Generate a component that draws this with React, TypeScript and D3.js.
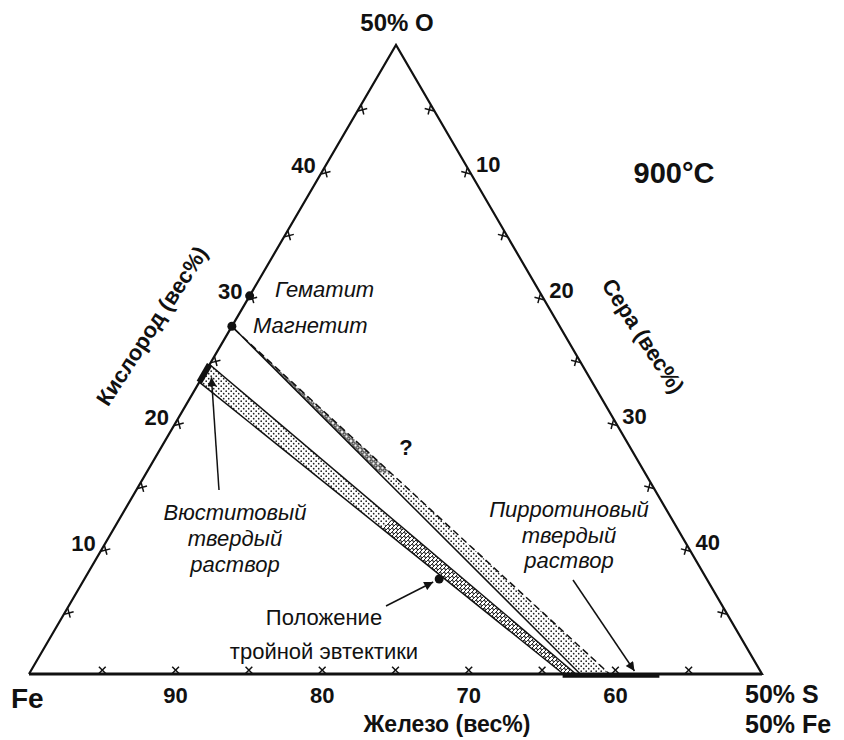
import React from 'react';
import * as d3 from 'd3';

// ---- data (compositions in wt%) ----
const axisTicks = [5, 10, 15, 20, 25, 30, 35, 40, 45];
const oxygenLabels = [10, 20, 30, 40];
const sulfurLabels = [10, 20, 30, 40];
const ironLabels = [90, 80, 70, 60];

// [O wt%, S wt%]
const hematite: [number, number] = [30.06, 0];
const magnetite: [number, number] = [27.64, 0];
const wustiteRange = [23.2, 24.6]; // O wt% on Fe–O join
const pyrrhotiteRange = [63.6, 57.0]; // Fe wt% on Fe–S join
const eutectic: [number, number] = [7.55, 24.2];
const lineA: [number, number][] = [[23.2, 0], [0, 36.45]];
const lineB: [number, number][] = [[24.6, 0], [0, 37.3]];
const lineC: [number, number][] = [[27.64, 0], [0, 37.6]];
const lineD: [number, number][] = [[27.4, 0.3], [0, 39.6]];
const pyrrhotiteArrowFe = 58.7;

// ---- geometry ----
const X0 = 29, Y0 = 674, XR = 762, XT = 396, YT = 45;
const sX = d3.scaleLinear().domain([0, 50]).range([0, XR - X0]);
const oX = d3.scaleLinear().domain([0, 50]).range([0, XT - X0]);
const oY = d3.scaleLinear().domain([0, 50]).range([Y0, YT]);

function P(o: number, s: number): [number, number] {
  return [X0 + sX(s) + oX(o), oY(o)];
}
const lerp = (a: [number, number], b: [number, number], u: number): [number, number] => [a[0] + (b[0] - a[0]) * u, a[1] + (b[1] - a[1]) * u];

const FONT = '"Liberation Sans", Arial, sans-serif';

function Tick({ p, dir }: { p: [number, number]; dir: [number, number] }) {
  const c: [number, number] = [p[0] + dir[0] * 3.8, p[1] + dir[1] * 3.8];
  const ang = Math.atan2(dir[1], dir[0]);
  const L = 4.8;
  const segs = [ang + Math.PI / 4, ang - Math.PI / 4].map((a) => {
    const dx = Math.cos(a) * L, dy = Math.sin(a) * L;
    return <line key={a} x1={c[0] - dx} y1={c[1] - dy} x2={c[0] + dx} y2={c[1] + dy} stroke="#111" strokeWidth={1.5} />;
  });
  return <g>{segs}</g>;
}

export default function App() {
  const pFe = P(0, 0), pS = P(0, 50), pO = P(50, 0);
  const line = d3.line();

  const nBottom: [number, number] = [0, -1];
  const leftDir = [pO[0] - pFe[0], pO[1] - pFe[1]];
  const lenL = Math.hypot(leftDir[0], leftDir[1]);
  let nl: [number, number] = [-leftDir[1] / lenL, leftDir[0] / lenL];
  if (nl[0] < 0) nl = [-nl[0], -nl[1]];
  const rightDir = [pS[0] - pO[0], pS[1] - pO[1]];
  const lenR = Math.hypot(rightDir[0], rightDir[1]);
  let nr: [number, number] = [-rightDir[1] / lenR, rightDir[0] / lenR];
  if (nr[0] > 0) nr = [-nr[0], -nr[1]];

  const A0 = P(lineA[0][0], lineA[0][1]), A1 = P(lineA[1][0], lineA[1][1]);
  const B0 = P(lineB[0][0], lineB[0][1]), B1 = P(lineB[1][0], lineB[1][1]);
  const C0 = P(lineC[0][0], lineC[0][1]), C1 = P(lineC[1][0], lineC[1][1]);
  const D0 = P(lineD[0][0], lineD[0][1]), D1 = P(lineD[1][0], lineD[1][1]);

  const uSplit = 0.5;
  const lowDots = [A0, lerp(A0, A1, uSplit), lerp(B0, B1, uSplit), B0];
  const lowHatch = [lerp(A0, A1, uSplit), A1, B1, lerp(B0, B1, uSplit)];
  const vSplit = 0.42;
  const upWavy = [C0, lerp(C0, C1, vSplit), lerp(D0, D1, vSplit), D0];
  const upDots = [lerp(C0, C1, vSplit), C1, D1, lerp(D0, D1, vSplit)];

  const poly = (pts: [number, number][]) => line([...pts, pts[0]]) || '';

  const pHem = P(hematite[0], hematite[1]);
  const pMag = P(magnetite[0], magnetite[1]);
  const pW0 = P(wustiteRange[0], 0), pW1 = P(wustiteRange[1], 0);
  const pWm = P((wustiteRange[0] + wustiteRange[1]) / 2, 0);
  const pPy0 = P(0, 100 - pyrrhotiteRange[0]);
  const pPy1 = P(0, 100 - pyrrhotiteRange[1]);
  const pEu = P(eutectic[0], eutectic[1]);
  const pPyArrow = P(0, 100 - pyrrhotiteArrowFe);

  const labelStyle = { fontFamily: FONT, fontWeight: 700, fontSize: 22, fill: '#111' } as const;
  const itStyle = { fontFamily: FONT, fontStyle: 'italic', fontSize: 22, fill: '#111' } as const;
  const regStyle = { fontFamily: FONT, fontSize: 22, fill: '#111' } as const;

  return (
    <svg width={844} height={740} style={{ position: 'absolute', left: 0, top: 0, background: '#fff' }}>
      <defs>
        <pattern id="dots" width={5} height={5} patternUnits="userSpaceOnUse">
          <circle cx={1.2} cy={1.2} r={0.85} fill="#222" />
          <circle cx={3.7} cy={3.7} r={0.85} fill="#222" />
        </pattern>
        <pattern id="hatch" width={4} height={4} patternUnits="userSpaceOnUse">
          <circle cx={1} cy={1} r={0.7} fill="#222" />
          <path d="M0,4 L4,0" stroke="#222" strokeWidth={1} />
          <path d="M0,0 L2,2" stroke="#222" strokeWidth={0.7} />
        </pattern>
        <pattern id="wavy" width={4.5} height={4.5} patternUnits="userSpaceOnUse">
          <circle cx={2.25} cy={2.25} r={1.5} fill="none" stroke="#111" strokeWidth={1} />
        </pattern>
        <marker id="arr" viewBox="0 0 10 10" refX={10} refY={5} markerWidth={11} markerHeight={9} markerUnits="userSpaceOnUse" orient="auto">
          <path d="M0,0 L10,5 L0,10 z" fill="#111" />
        </marker>
      </defs>

      {/* phase regions */}
      <path d={poly(lowDots)} fill="url(#dots)" stroke="none" />
      <path d={poly(lowHatch)} fill="url(#hatch)" stroke="none" />
      <path d={poly(upWavy)} fill="url(#wavy)" stroke="none" />
      <path d={poly(upDots)} fill="url(#dots)" stroke="none" />

      {/* tie lines */}
      <path d={line([A0, A1]) || ''} stroke="#111" strokeWidth={1.5} fill="none" />
      <path d={line([B0, B1]) || ''} stroke="#111" strokeWidth={1.5} fill="none" />
      <path d={line([C0, C1]) || ''} stroke="#111" strokeWidth={1.5} fill="none" />
      <path d={line([D0, D1]) || ''} stroke="#111" strokeWidth={1.5} fill="none" strokeDasharray="7,4" />

      {/* triangle */}
      <path d={poly([pFe, pS, pO])} fill="none" stroke="#111" strokeWidth={2.2} strokeLinejoin="miter" />
      <line x1={pFe[0]} y1={pFe[1]} x2={pS[0]} y2={pS[1]} stroke="#111" strokeWidth={2.8} />

      {/* ticks */}
      {axisTicks.map((v) => <Tick key={'b' + v} p={P(0, v)} dir={nBottom} />)}
      {axisTicks.map((v) => <Tick key={'l' + v} p={P(v, 0)} dir={nl} />)}
      {axisTicks.map((v) => <Tick key={'r' + v} p={P(50 - v, v)} dir={nr} />)}

      {/* solid solutions */}
      <line x1={pW0[0]} y1={pW0[1]} x2={pW1[0]} y2={pW1[1]} stroke="#111" strokeWidth={6} />
      <line x1={pPy0[0]} y1={pPy0[1] + 1.5} x2={pPy1[0]} y2={pPy1[1] + 1.5} stroke="#111" strokeWidth={4.5} />

      {/* points */}
      <circle cx={pHem[0]} cy={pHem[1]} r={4.5} fill="#111" />
      <circle cx={pMag[0]} cy={pMag[1]} r={4.5} fill="#111" />
      <circle cx={pEu[0]} cy={pEu[1]} r={4.5} fill="#111" />

      {/* tick labels */}
      {ironLabels.map((v) => {
        const p = P(0, 100 - v);
        return <text key={'fl' + v} x={p[0]} y={p[1] + 29} textAnchor="middle" style={labelStyle}>{v}</text>;
      })}
      {oxygenLabels.map((v) => {
        const p = P(v, 0);
        return <text key={'ol' + v} x={p[0] - 19} y={p[1] - 5} textAnchor="middle" dominantBaseline="central" style={labelStyle}>{v}</text>;
      })}
      {sulfurLabels.map((v) => {
        const p = P(50 - v, v);
        return <text key={'sl' + v} x={p[0] + 19} y={p[1] - 6} textAnchor="middle" dominantBaseline="central" style={labelStyle}>{v}</text>;
      })}

      {/* corner & axis titles */}
      <text x={397} y={31} textAnchor="middle" style={{ ...labelStyle, fontSize: 24 }}>50% O</text>
      <text x={674} y={183} textAnchor="middle" style={{ ...labelStyle, fontSize: 29 }}>900°C</text>
      <text x={11} y={708} style={{ ...labelStyle, fontSize: 28 }}>Fe</text>
      <text x={745} y={703} style={{ ...labelStyle, fontSize: 25 }}>50% S</text>
      <text x={745} y={733} style={{ ...labelStyle, fontSize: 25 }}>50% Fe</text>
      <text x={447} y={732} textAnchor="middle" style={{ ...labelStyle, fontSize: 23 }}>Железо (вес%)</text>
      <text transform="translate(152,326) rotate(-57)" textAnchor="middle" dominantBaseline="central" style={{ ...labelStyle, fontSize: 22 }}>Кислород (вес%)</text>
      <text transform="translate(643,336) rotate(57)" textAnchor="middle" dominantBaseline="central" style={{ ...labelStyle, fontSize: 22 }}>Сера (вес%)</text>

      {/* annotations */}
      <text x={275} y={297} style={itStyle}>Гематит</text>
      <text x={253} y={333} style={itStyle}>Магнетит</text>
      <text x={406} y={455} textAnchor="middle" style={{ ...labelStyle, fontSize: 22 }}>?</text>

      <text x={235} y={520} textAnchor="middle" style={itStyle}>Вюститовый</text>
      <text x={235} y={546} textAnchor="middle" style={itStyle}>твердый</text>
      <text x={235} y={572} textAnchor="middle" style={itStyle}>раствор</text>
      <line x1={219} y1={490} x2={pWm[0] + 7} y2={pWm[1] + 4} stroke="#111" strokeWidth={1.5} markerEnd="url(#arr)" />

      <text x={569} y={517} textAnchor="middle" style={itStyle}>Пирротиновый</text>
      <text x={569} y={543} textAnchor="middle" style={itStyle}>твердый</text>
      <text x={569} y={568} textAnchor="middle" style={itStyle}>раствор</text>
      <line x1={573} y1={580} x2={pPyArrow[0]} y2={pPyArrow[1] - 3} stroke="#111" strokeWidth={1.5} markerEnd="url(#arr)" />

      <text x={324} y={625} textAnchor="middle" style={regStyle}>Положение</text>
      <text x={324} y={659} textAnchor="middle" style={regStyle}>тройной эвтектики</text>
      <line x1={386} y1={606} x2={pEu[0] - 6} y2={pEu[1] + 3} stroke="#111" strokeWidth={1.5} markerEnd="url(#arr)" />
    </svg>
  );
}
